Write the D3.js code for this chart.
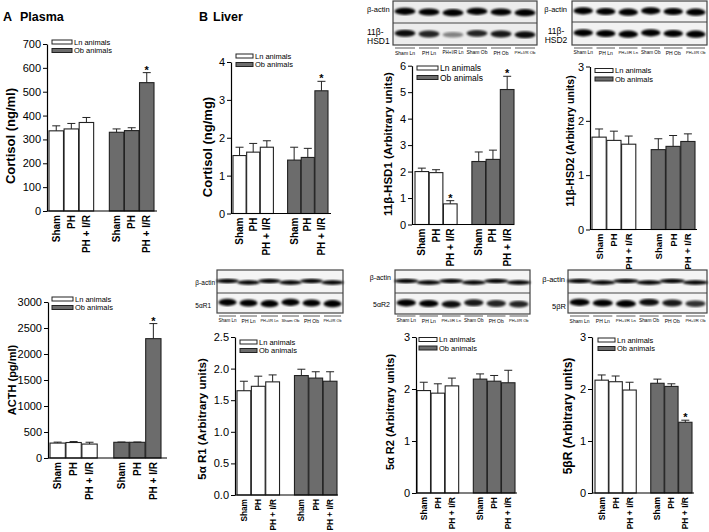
<!DOCTYPE html>
<html><head><meta charset="utf-8">
<script src="https://cdn.jsdelivr.net/npm/d3@7"></script>
<style>body{margin:0;background:#fff} svg{display:block;font-family:"Liberation Sans",Arial,sans-serif}</style>
</head><body><svg id="c" width="709" height="532"></svg>
<script>
// ---------- data ----------
const conditions = ["Sham", "PH", "PH + I/R"];
const groups = ["Ln animals", "Ob animals"];
const barKeys = ["Ln Sham", "Ln PH", "Ln PH + I/R", "Ob Sham", "Ob PH", "Ob PH + I/R"];
const slotKeys = ["Ln Sham", "Ln PH", "Ln PH + I/R", "gap", "Ob Sham", "Ob PH", "Ob PH + I/R"];
const laneLabels = ["Sham Ln", "PH Ln", "PH+I/R Ln", "Sham Ob", "PH Ob", "PH+I/R Ob"];

const plasmaCortisolMean = [336, 344, 371, 330, 337, 538];
const plasmaCortisolSem  = [21, 23, 21, 14, 12, 42];
const plasmaCortisolStars = [5];
const plasmaCortisolTicks = [0, 100, 200, 300, 400, 500, 600, 700];

const acthMean = [287, 298, 268, 302, 302, 2295];
const acthSem  = [18, 18, 35, 5, 5, 290];
const acthStars = [5];
const acthTicks = [0, 500, 1000, 1500, 2000, 2500, 3000];

const liverCortisolMean = [1.53, 1.62, 1.75, 1.41, 1.48, 3.24];
const liverCortisolSem  = [0.22, 0.23, 0.17, 0.34, 0.24, 0.25];
const liverCortisolStars = [5];
const liverCortisolTicks = [0, 1, 2, 3, 4];

const hsd1Mean = [2.0, 1.96, 0.78, 2.38, 2.46, 5.1];
const hsd1Sem  = [0.13, 0.11, 0.12, 0.36, 0.35, 0.5];
const hsd1Stars = [2, 5];
const hsd1Ticks = [0, 1, 2, 3, 4, 5, 6];

const hsd2Mean = [1.70, 1.64, 1.57, 1.47, 1.53, 1.62];
const hsd2Sem  = [0.15, 0.17, 0.15, 0.20, 0.20, 0.14];
const hsd2Stars = [];
const hsd2Ticks = [0, 1, 2, 3];

const r1Mean = [1.65, 1.72, 1.79, 1.89, 1.85, 1.80];
const r1Sem  = [0.15, 0.16, 0.11, 0.10, 0.10, 0.15];
const r1Stars = [];
const r1Ticks = [0, 0.5, 1.0, 1.5, 2.0, 2.5];

const r2Mean = [1.97, 1.92, 2.06, 2.19, 2.15, 2.12];
const r2Sem  = [0.16, 0.18, 0.15, 0.10, 0.11, 0.24];
const r2Stars = [];
const r2Ticks = [0, 1, 2, 3];

const bRMean = [2.17, 2.14, 1.98, 2.11, 2.05, 1.36];
const bRSem  = [0.10, 0.11, 0.15, 0.08, 0.05, 0.04];
const bRStars = [5];
const bRTicks = [0, 1, 2, 3];

// blot band intensities (β-actin row, target row)
const hsd1Bands = [[1, 1, 1, 1, 1, 1], [0.95, 0.85, 0.45, 0.85, 0.9, 0.95]];
const hsd2Bands = [[1, 1, 1, 1, 1, 1], [1, 1, 1, 1, 1, 1]];
const r1Bands = [[1, 1, 1, 1, 1, 1], [1, 1, 1, 1, 1, 1]];
const r2Bands = [[1, 1, 1, 1, 1, 1], [1, 1, 0.95, 0.9, 0.85, 0.85]];
const bRBands = [[1, 1, 1, 1, 1, 1], [1, 1, 1, 0.95, 0.9, 0.8]];

// ---------- layout ----------
const panels = [
  {mean: plasmaCortisolMean, sem: plasmaCortisolSem, stars: plasmaCortisolStars, ticks: plasmaCortisolTicks, fmt: "d",
   title: "Cortisol (ng/ml)", tSize: 13, tX: 10, tY: 136, xlS: 10,
   ax: 47, axEnd: 157, yTop: 44, yBot: 211, b0: 49, b1: 154, legX: 52, legY: 42, legS: 7.5, legW: 20},
  {mean: acthMean, sem: acthSem, stars: acthStars, ticks: acthTicks, fmt: "d",
   title: "ACTH (pg/ml)", tSize: 11, tX: 12, tY: 380, xlS: 10,
   ax: 48, axEnd: 167, yTop: 302, yBot: 458, b0: 50, b1: 161, legX: 52, legY: 299, legS: 7.5, legW: 21},
  {mean: liverCortisolMean, sem: liverCortisolSem, stars: liverCortisolStars, ticks: liverCortisolTicks, fmt: "d",
   title: "Cortisol (ng/mg)", tSize: 13, tX: 207, tY: 147, xlS: 10,
   ax: 231, axEnd: 331, yTop: 62, yBot: 213.5, b0: 233, b1: 328, legX: 236, legY: 56, legS: 7.5, legW: 17},
  {mean: hsd1Mean, sem: hsd1Sem, stars: hsd1Stars, ticks: hsd1Ticks, fmt: "d",
   title: "11β-HSD1 (Arbitrary units)", tSize: 11.5, tX: 388, tY: 144, xlS: 10,
   ax: 412, axEnd: 514, yTop: 65.7, yBot: 224.5, b0: 415, b1: 514, legX: 417, legY: 68, legS: 8.5, legW: 21},
  {mean: hsd2Mean, sem: hsd2Sem, stars: hsd2Stars, ticks: hsd2Ticks, fmt: "d",
   title: "11β-HSD2 (Arbitrary units)", tSize: 10.5, tX: 570, tY: 141, xlS: 9.5,
   ax: 590, axEnd: 697, yTop: 66.5, yBot: 229.5, b0: 592, b1: 695, legX: 595, legY: 70.5, legS: 7.5, legW: 18},
  {mean: r1Mean, sem: r1Sem, stars: r1Stars, ticks: r1Ticks, fmt: ".1f",
   title: "5α R1 (Arbitrary units)", tSize: 11.5, tX: 202, tY: 419, xlS: 8.3,
   ax: 235, axEnd: 338, yTop: 337, yBot: 495, b0: 237, b1: 337, legX: 240, legY: 342, legS: 7.5, legW: 17},
  {mean: r2Mean, sem: r2Sem, stars: r2Stars, ticks: r2Ticks, fmt: "d",
   title: "5α R2 (Arbitrary units)", tSize: 11, tX: 390, tY: 412, xlS: 8.5,
   ax: 416, axEnd: 517, yTop: 337, yBot: 493, b0: 417, b1: 515, legX: 419, legY: 339.5, legS: 7.5, legW: 18},
  {mean: bRMean, sem: bRSem, stars: bRStars, ticks: bRTicks, fmt: "d",
   title: "5βR (Arbitrary units)", tSize: 12, tX: 568, tY: 416, xlS: 8.5,
   ax: 592, axEnd: 694, yTop: 337, yBot: 493, b0: 595, b1: 692, legX: 598, legY: 340, legS: 7.5, legW: 17}
];

const blots = [
  {x0: 393, x1: 537, y0: 1, yM: 23, y1: 45, bands: hsd1Bands, bg: "#ececec", ls: 48,
   labels: [{t: "β-actin", x: 367, y: 9, a: "start", s: 7.5}, {t: "11β-", x: 367, y: 32, a: "start", s: 8.5}, {t: "HSD1", x: 367, y: 41, a: "start", s: 8.5}]},
  {x0: 572, x1: 707, y0: 1, yM: 22, y1: 45, bands: hsd2Bands, bg: "#f2f2f2", ls: 48,
   labels: [{t: "β-actin", x: 567, y: 9, a: "end", s: 7.5}, {t: "11β-", x: 556, y: 31, a: "middle", s: 8.5}, {t: "HSD2", x: 556, y: 40, a: "middle", s: 8.5}]},
  {x0: 217, x1: 343, y0: 270, yM: 293, y1: 313, bands: r1Bands, bg: "#f4f4f4", ls: 316, thin: true,
   labels: [{t: "β-actin", x: 215, y: 282, a: "end", s: 6.5}, {t: "5αR1", x: 211, y: 305, a: "end", s: 6.5}]},
  {x0: 395, x1: 530, y0: 270, yM: 293, y1: 314, bands: r2Bands, bg: "#f4f4f4", ls: 316, thin: true,
   labels: [{t: "β-actin", x: 391, y: 277, a: "end", s: 7}, {t: "5αR2", x: 390, y: 304, a: "end", s: 7}]},
  {x0: 568, x1: 707, y0: 270, yM: 293, y1: 313, bands: bRBands, bg: "#f4f4f4", ls: 316, thin: true,
   labels: [{t: "β-actin", x: 565, y: 279, a: "end", s: 7.5}, {t: "5βR", x: 566, y: 306, a: "end", s: 7.5}]}
];

const obFill = "#6c6c6c", edge = "#222";
const svg = d3.select("#c");
const defs = svg.append("defs");
defs.append("filter").attr("id", "blur").append("feGaussianBlur").attr("stdDeviation", 0.9);

// section headings
svg.append("text").attr("x", 3).attr("y", 21).attr("font-size", 12.5).attr("font-weight", "bold").text("A");
svg.append("text").attr("x", 20).attr("y", 21).attr("font-size", 12.5).attr("font-weight", "bold").text("Plasma");
svg.append("text").attr("x", 199).attr("y", 21).attr("font-size", 12.5).attr("font-weight", "bold").text("B");
svg.append("text").attr("x", 213).attr("y", 21).attr("font-size", 12.5).attr("font-weight", "bold").text("Liver");

// ---------- bar panels ----------
panels.forEach(p => {
  const y = d3.scaleLinear().domain([0, d3.max(p.ticks)]).range([p.yBot, p.yTop]);
  const x = d3.scaleBand().domain(slotKeys).range([p.b0, p.b1]).paddingInner(0.04).paddingOuter(0);
  const g = svg.append("g");
  const data = barKeys.map((k, i) => ({k, i, m: p.mean[i], s: p.sem[i], ob: i >= 3, cond: conditions[i % 3]}));

  g.selectAll("rect.bar").data(data).join("rect")
    .attr("x", d => x(d.k)).attr("width", x.bandwidth())
    .attr("y", d => y(d.m)).attr("height", d => y(0) - y(d.m))
    .attr("fill", d => d.ob ? obFill : "#fff").attr("stroke", edge).attr("stroke-width", 1.1);

  const cx = d => x(d.k) + x.bandwidth() / 2;
  g.selectAll("line.ev").data(data).join("line")
    .attr("x1", cx).attr("x2", cx).attr("y1", d => y(d.m)).attr("y2", d => y(d.m + d.s))
    .attr("stroke", edge).attr("stroke-width", 1);
  g.selectAll("line.cap").data(data).join("line")
    .attr("x1", d => cx(d) - 4).attr("x2", d => cx(d) + 4)
    .attr("y1", d => y(d.m + d.s)).attr("y2", d => y(d.m + d.s))
    .attr("stroke", edge).attr("stroke-width", 1);

  g.selectAll("text.star").data(data.filter(d => p.stars.includes(d.i))).join("text")
    .attr("x", cx).attr("y", d => y(d.m + d.s) + 1).attr("text-anchor", "middle")
    .attr("font-size", 11).attr("font-weight", "bold").text("*");

  const ya = g.append("g").attr("transform", `translate(${p.ax},0)`)
    .call(d3.axisLeft(y).tickValues(p.ticks).tickFormat(d3.format(p.fmt)).tickSize(4).tickSizeOuter(0).tickPadding(2));
  ya.select(".domain").attr("stroke", "#000").attr("stroke-width", 1.2);
  ya.selectAll(".tick line").attr("stroke", "#000");
  ya.selectAll(".tick text").attr("font-size", 11).attr("font-family", "Liberation Sans, Arial, sans-serif").attr("fill", "#000");

  g.append("line").attr("x1", p.ax).attr("x2", p.axEnd).attr("y1", p.yBot).attr("y2", p.yBot)
    .attr("stroke", "#000").attr("stroke-width", 1.2);

  g.selectAll("text.xl").data(data).join("text")
    .attr("transform", d => `translate(${cx(d)},${p.yBot + 4}) rotate(-90)`)
    .attr("text-anchor", "end").attr("dominant-baseline", "central")
    .attr("font-size", p.xlS).attr("font-weight", "bold").text(d => d.cond);

  g.append("text").attr("transform", `translate(${p.tX},${p.tY}) rotate(-90)`)
    .attr("text-anchor", "middle").attr("dominant-baseline", "central")
    .attr("font-size", p.tSize).attr("font-weight", "bold").text(p.title);

  groups.forEach((gn, i) => {
    const ly = p.legY + i * (p.legS + 1);
    g.append("rect").attr("x", p.legX).attr("y", ly - 2).attr("width", p.legW).attr("height", 4)
      .attr("fill", i ? obFill : "#fff").attr("stroke", edge).attr("stroke-width", 1);
    g.append("text").attr("x", p.legX + p.legW + 2).attr("y", ly).attr("dominant-baseline", "central")
      .attr("font-size", p.legS).text(gn);
  });
});

// ---------- blots ----------
blots.forEach(b => {
  const g = svg.append("g");
  const lane = d3.scaleBand().domain(laneLabels).range([b.x0, b.x1]);
  g.append("rect").attr("x", b.x0).attr("y", b.y0).attr("width", b.x1 - b.x0).attr("height", b.y1 - b.y0)
    .attr("fill", b.bg).attr("stroke", "#444").attr("stroke-width", 1.2);
  const rows = [[b.y0, b.yM], [b.yM, b.y1]];
  rows.forEach((r, ri) => {
    const cy = (r[0] + r[1]) / 2;
    g.selectAll(null).data(laneLabels).join("ellipse")
      .attr("cx", d => lane(d) + lane.bandwidth() / 2)
      .attr("cy", (d, i) => cy + (b.thin && ri === 0 ? (i % 2 ? 1 : -0.5) : (i % 3 - 1) * 0.7))
      .attr("rx", lane.bandwidth() / 2 - (b.thin && ri === 0 ? -1 : 1.5))
      .attr("ry", (d, i) => (b.thin && ri === 0 ? 2.2 : 3.6) * (0.6 + 0.4 * b.bands[ri][i]))
      .attr("fill", "#000").attr("fill-opacity", (d, i) => b.bands[ri][i])
      .attr("filter", "url(#blur)");
  });
  g.append("line").attr("x1", b.x0).attr("x2", b.x1).attr("y1", b.yM).attr("y2", b.yM)
    .attr("stroke", "#444").attr("stroke-width", 1.2);
  b.labels.forEach(l => g.append("text").attr("x", l.x).attr("y", l.y).attr("text-anchor", l.a)
    .attr("dominant-baseline", "central").attr("font-size", l.s).text(l.t));
  g.selectAll(null).data(laneLabels).join("line")
    .attr("x1", d => lane(d) + 2).attr("x2", d => lane(d) + lane.bandwidth() - 2)
    .attr("y1", b.ls).attr("y2", b.ls).attr("stroke", "#333").attr("stroke-width", 0.8);
  g.selectAll(null).data(laneLabels).join("text")
    .attr("x", d => lane(d) + lane.bandwidth() / 2).attr("y", b.ls + 4.5)
    .attr("text-anchor", "middle").attr("dominant-baseline", "central")
    .attr("font-size", 5).text(d => d)
    .each(function () {
      const maxW = lane.bandwidth() - 3;
      if (this.getComputedTextLength() > maxW) {
        d3.select(this).attr("font-size", 5 * maxW / this.getComputedTextLength());
      }
    });
});
</script></body></html>
